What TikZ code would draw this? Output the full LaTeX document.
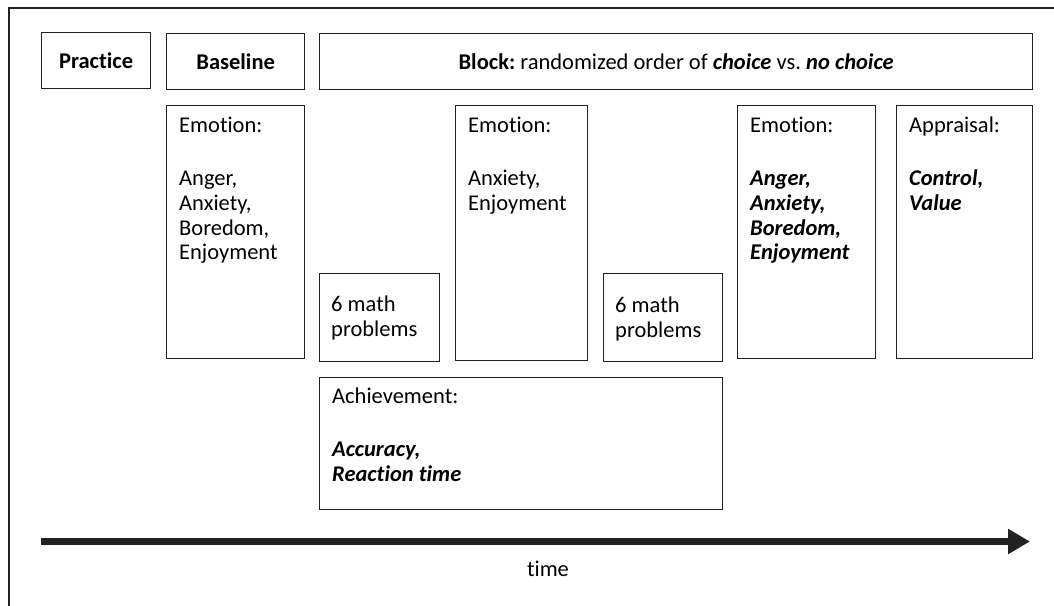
\documentclass[tikz,border=0pt]{standalone}
\usepackage{fontspec}
\setmainfont{Carlito}[Ligatures=NoCommon]
\usetikzlibrary{arrows.meta}
\frenchspacing
\definecolor{ink}{HTML}{222222}
\tikzset{
  frame/.style={draw=ink, line width=1.4pt},
  box/.style={draw=ink, line width=1.3pt, rectangle, inner sep=0pt, anchor=north west},
  txt/.style={inner sep=0pt, anchor=north west, align=left, font=\fontsize{22.5}{24.8}\selectfont, text=black},
  head/.style={inner sep=0pt, anchor=center, font=\fontsize{22.5}{24.8}\selectfont, text=black},
}
\newcommand{\bi}[1]{\textbf{\textit{#1}}}
\begin{document}
\begin{tikzpicture}[x=1pt,y=-1pt]
\useasboundingbox (0,0) rectangle (1054,605);
% outer frame (partly cropped)
\coordinate (fa) at (9,606);
\coordinate (fb) at (9,8);
\coordinate (fc) at (1055,8);
\draw[frame] (fa) -- (fb) -- (fc);

% header boxes
\node[box, minimum width=109, minimum height=56] (prac) at (41,32) {};
\node[head, font=\fontsize{22.5}{24.8}\selectfont\bfseries] (pract) at (prac.center) {Practice};
\node[box, minimum width=138, minimum height=56] (base) at (166,33) {};
\node[head, font=\fontsize{22.5}{24.8}\selectfont\bfseries] (baset) at (base.center) {Baseline};
\node[box, minimum width=713, minimum height=56] (block) at (319,33) {};
\node[head] (blockt) at (block.center) {\textbf{Block:} randomized order of \bi{choice} vs. \bi{no choice}};

% emotion / appraisal boxes
\node[box, minimum width=138, minimum height=253] (e1) at (166,105) {};
\node[txt] (e1t) at (179,117) {Emotion:\\[28pt]Anger,\\Anxiety,\\Boredom,\\Enjoyment};
\node[box, minimum width=132, minimum height=255] (e2) at (455,105) {};
\node[txt] (e2t) at (468,117) {Emotion:\\[28pt]Anxiety,\\Enjoyment};
\node[box, minimum width=138, minimum height=253] (e3) at (737,105) {};
\node[txt] (e3t) at (750,117) {Emotion:\\[28pt]\bi{Anger,}\\\bi{Anxiety,}\\\bi{Boredom,}\\\bi{Enjoyment}};
\node[box, minimum width=136, minimum height=253] (ap) at (896,105) {};
\node[txt] (apt) at (909,117) {Appraisal:\\[28pt]\bi{Control,}\\\bi{Value}};

% math problem boxes
\node[box, minimum width=120, minimum height=88] (m1) at (319,273) {};
\node[txt] (m1t) at (331,296) {6 math\\problems};
\node[box, minimum width=119, minimum height=88] (m2) at (603,273) {};
\node[txt] (m2t) at (615,297) {6 math\\problems};

% achievement
\node[box, minimum width=403, minimum height=132] (ach) at (319,377) {};
\node[txt] (acht) at (332,388) {Achievement:\\[28pt]\bi{Accuracy,}\\\bi{Reaction time}};

% time arrow
\coordinate (ts) at (41,541.5);
\coordinate (te) at (1030,541.5);
\draw[draw=ink, line width=7pt, -{Triangle[length=22pt,width=24pt]}] (ts) -- (te);
\node[inner sep=0pt, anchor=base, font=\fontsize{22.5}{24.8}\selectfont] (time) at (548,576) {time};
\end{tikzpicture}
\end{document}
